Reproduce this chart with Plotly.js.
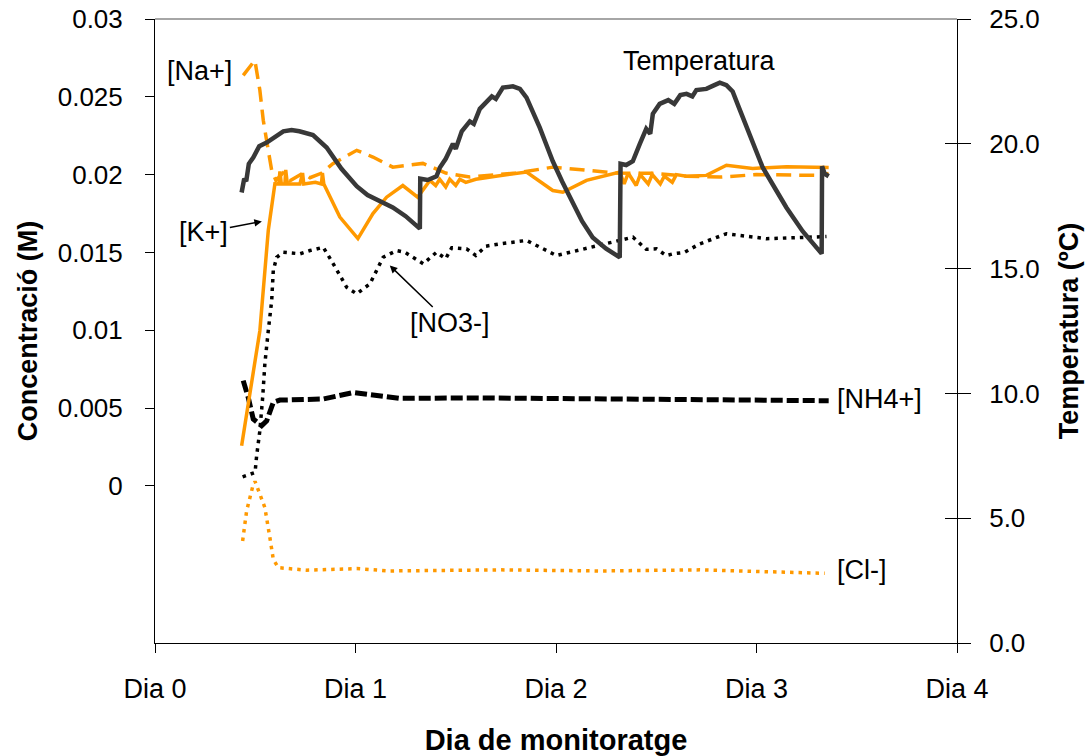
<!DOCTYPE html>
<html>
<head>
<meta charset="utf-8">
<script src="https://cdn.plot.ly/plotly-3.0.1.min.js"></script>
<style>html,body{margin:0;padding:0;background:#fff;}#chart{width:1090px;height:756px;}</style>
</head>
<body>
<div id="chart"></div>
<script>
// X tick labels
const dayTickVals = [0, 1, 2, 3, 4];
const dayTickText = ["Dia 0", "Dia 1", "Dia 2", "Dia 3", "Dia 4"];
const concTickVals = [0, 0.005, 0.01, 0.015, 0.02, 0.025, 0.03];
const concTickText = ["0", "0.005", "0.01", "0.015", "0.02", "0.025", "0.03"];

// Temperatura (ºC) – right axis
const tempDay = [0.432,0.445,0.455,0.468,0.490,0.520,0.557,0.600,0.640,0.681,0.720,0.788,0.856,0.930,1.006,1.060,1.122,1.186,1.250,1.321,1.323,1.360,1.404,1.421,1.450,1.486,1.500,1.530,1.570,1.590,1.620,1.654,1.680,1.700,1.735,1.785,1.820,1.853,1.885,1.919,1.950,1.984,2.030,2.069,2.130,2.183,2.250,2.318,2.322,2.350,2.383,2.418,2.450,2.470,2.483,2.517,2.560,2.590,2.620,2.651,2.680,2.700,2.750,2.790,2.817,2.850,2.881,2.910,2.950,3.000,3.031,3.090,3.149,3.230,3.290,3.325,3.327,3.340,3.360];
const tempVal = [18.05,18.6,18.5,19.2,19.45,19.9,20.05,20.3,20.5,20.55,20.5,20.35,19.85,19.0,18.3,17.95,17.7,17.45,17.1,16.6,18.6,18.55,18.7,19.05,19.4,20.0,19.8,20.5,20.9,20.8,21.4,21.7,21.9,21.8,22.25,22.3,22.2,21.85,21.3,20.65,20.0,19.3,18.5,17.85,16.9,16.25,15.8,15.45,19.2,19.15,19.3,20.0,20.6,20.4,21.2,21.6,21.75,21.6,21.95,22.0,21.9,22.15,22.2,22.35,22.45,22.35,22.1,21.5,20.65,19.6,19.05,18.25,17.45,16.5,15.9,15.6,19.1,18.8,18.7];

// [K+] (M)
const kDay = [0.432,0.507,0.523,0.565,0.598,0.618,0.623,0.630,0.648,0.652,0.660,0.723,0.736,0.742,0.800,0.830,0.835,0.842,0.922,1.012,1.087,1.155,1.236,1.310,1.371,1.400,1.420,1.450,1.470,1.500,1.520,1.550,1.600,1.700,1.853,1.984,2.034,2.152,2.318,2.340,2.360,2.400,2.420,2.460,2.480,2.520,2.540,2.580,2.600,2.650,2.750,2.850,2.981,3.150,3.360];
const kVal = [0.00257,0.00869,0.00997,0.01641,0.01941,0.0194,0.0202,0.0194,0.0194,0.0203,0.0194,0.0194,0.0201,0.0194,0.0195,0.0194,0.0201,0.0194,0.01727,0.01589,0.0175,0.01855,0.0193,0.01855,0.01963,0.0193,0.0197,0.0192,0.0197,0.0193,0.0197,0.0195,0.0197,0.0199,0.02016,0.01898,0.01887,0.01963,0.02016,0.0194,0.0201,0.0193,0.0200,0.0194,0.0200,0.0194,0.0199,0.0195,0.0200,0.0199,0.01995,0.0206,0.0204,0.0205,0.02046];

// [Na+] (M)
const naDay = [0.440,0.498,0.523,0.540,0.565,0.582,0.603,0.638,0.673,0.738,0.773,0.832,0.887,1.006,1.087,1.186,1.336,1.450,1.570,1.800,1.984,2.152,2.300,2.483,2.650,2.817,3.000,3.315,3.360];
const naVal = [0.02638,0.02735,0.02542,0.02349,0.02156,0.02027,0.01963,0.0201,0.0196,0.0201,0.0198,0.0201,0.0207,0.02156,0.02113,0.02048,0.02072,0.0201,0.01984,0.0201,0.02048,0.02027,0.0201,0.02008,0.0199,0.01984,0.0200,0.01995,0.02008];

// [NO3-] (M)
const no3Day = [0.437,0.499,0.507,0.523,0.537,0.548,0.565,0.582,0.590,0.607,0.640,0.723,0.773,0.839,0.889,0.956,1.006,1.072,1.138,1.205,1.246,1.338,1.404,1.450,1.480,1.554,1.600,1.650,1.720,1.853,2.002,2.218,2.384,2.450,2.501,2.550,2.584,2.640,2.717,2.850,3.050,3.349];
const no3Val = [0.00058,0.00086,0.00193,0.00354,0.00568,0.00785,0.00997,0.0119,0.01384,0.01469,0.01501,0.01491,0.01512,0.01533,0.01427,0.01276,0.01234,0.01298,0.01469,0.01512,0.01501,0.01427,0.01501,0.0146,0.0153,0.01523,0.0148,0.0154,0.01555,0.01577,0.0148,0.01544,0.01598,0.0152,0.01523,0.0148,0.01491,0.0150,0.01555,0.0162,0.01588,0.01602];

// [NH4+] (M)
const nh4Day = [0.440,0.465,0.490,0.532,0.557,0.590,0.623,0.839,0.989,1.088,1.221,1.600,2.000,2.500,3.000,3.360];
const nh4Val = [0.00676,0.00568,0.00429,0.00386,0.00418,0.00536,0.00551,0.00558,0.0060,0.00584,0.00562,0.00565,0.0056,0.00555,0.0055,0.00547];

// [Cl-] (M)
const clDay = [0.437,0.457,0.487,0.499,0.523,0.548,0.573,0.590,0.615,0.756,1.006,1.171,1.720,2.218,2.717,3.340];
const clVal = [-0.00354,-0.00161,-0.00006,0.00028,-0.00053,-0.0014,-0.00333,-0.00472,-0.00526,-0.00542,-0.00532,-0.00547,-0.0054,-0.00547,-0.0054,-0.00562];

const ORANGE = '#FF9900';
const FONT = 'Liberation Sans, Arial, sans-serif';

const traces = [
  {x: clDay, y: clVal, type: 'scatter', mode: 'lines', name: '[Cl-]', line: {color: ORANGE, width: 3.5, dash: '3.5px,5px'}},
  {x: nh4Day, y: nh4Val, type: 'scatter', mode: 'lines', name: '[NH4+]', line: {color: '#000', width: 5, dash: '12px,4px'}},
  {x: no3Day, y: no3Val, type: 'scatter', mode: 'lines', name: '[NO3-]', line: {color: '#000', width: 3.5, dash: '3.5px,5px'}},
  {x: kDay, y: kVal, type: 'scatter', mode: 'lines', name: '[K+]', line: {color: ORANGE, width: 3.5}},
  {x: naDay, y: naVal, type: 'scatter', mode: 'lines', name: '[Na+]', line: {color: ORANGE, width: 3.5, dash: '15px,8px'}},
  {x: tempDay, y: tempVal, type: 'scatter', mode: 'lines', name: 'Temperatura', yaxis: 'y2', line: {color: '#383838', width: 4.5}},
  {x: [null], y: [null], type: 'scatter', mode: 'lines', yaxis: 'y3', showlegend: false, hoverinfo: 'skip'}
];

const layout = {
  width: 1090, height: 756,
  margin: {l: 155, r: 133, t: 19, b: 113},
  paper_bgcolor: '#fff', plot_bgcolor: '#fff',
  showlegend: false,
  font: {family: FONT, size: 27, color: '#000'},
  xaxis: {
    range: [0, 4], tickvals: dayTickVals, ticktext: dayTickText,
    showline: true, linecolor: '#000', linewidth: 1, zeroline: false, showgrid: false,
    ticks: 'outside', ticklen: 9, tickcolor: '#000', ticklabelstandoff: 13,
    tickfont: {size: 27},
    title: {text: 'Dia de monitoratge', font: {family: FONT, size: 29, weight: 'bold'}, standoff: 32}
  },
  yaxis: {
    range: [-0.0101, 0.03], tickvals: concTickVals, ticktext: concTickText,
    showline: true, linecolor: '#000', linewidth: 1, zeroline: false, showgrid: false,
    ticks: 'outside', ticklen: 9, tickcolor: '#000', ticklabelstandoff: 17,
    tickfont: {size: 26},
    title: {text: 'Concentració (M)', font: {family: FONT, size: 27, weight: 'bold'}, standoff: 12}
  },
  yaxis2: {
    range: [0, 25], dtick: 5, tick0: 0, tickformat: '.1f', overlaying: 'y', side: 'right',
    showline: true, linecolor: '#000', linewidth: 1, zeroline: false, showgrid: false,
    ticks: 'outside', ticklen: 13, tickcolor: '#000', ticklabelstandoff: 13,
    tickfont: {size: 26},
    title: {text: 'Temperatura (ºC)', font: {family: FONT, size: 27, weight: 'bold'}, standoff: 20}
  },
  yaxis3: {
    range: [0, 25], dtick: 5, tick0: 0, overlaying: 'y', side: 'right', anchor: 'x',
    showline: false, zeroline: false, showgrid: false, showticklabels: false,
    ticks: 'inside', ticklen: 12, tickcolor: '#000'
  },
  shapes: [
    {type: 'line', xref: 'paper', yref: 'paper', x0: 0, x1: 1, y0: 1, y1: 1, line: {color: '#a6a6a6', width: 2}}
  ],
  annotations: [
    {x: 0.224, y: 0.02664, xref: 'x', yref: 'y', text: '[Na+]', showarrow: false},
    {x: 2.717, y: 23.3, xref: 'x', yref: 'y2', text: 'Temperatura', showarrow: false},
    {x: 0.533, y: 0.01699, xref: 'x', yref: 'y', text: '[K+]', showarrow: true, ax: -58, ay: 11,
     arrowhead: 2, arrowsize: 1, arrowwidth: 1.5, arrowcolor: '#000'},
    {x: 1.171, y: 0.01416, xref: 'x', yref: 'y', text: '[NO3-]', showarrow: true, ax: 60, ay: 58,
     arrowhead: 2, arrowsize: 1, arrowwidth: 1.5, arrowcolor: '#000'},
    {x: 3.392, y: 0.0056, xref: 'x', yref: 'y', text: '[NH4+]', showarrow: false, xanchor: 'left'},
    {x: 3.392, y: -0.0054, xref: 'x', yref: 'y', text: '[Cl-]', showarrow: false, xanchor: 'left'}
  ]
};

Plotly.newPlot('chart', traces, layout, {displayModeBar: false, staticPlot: true});
</script>
</body>
</html>
